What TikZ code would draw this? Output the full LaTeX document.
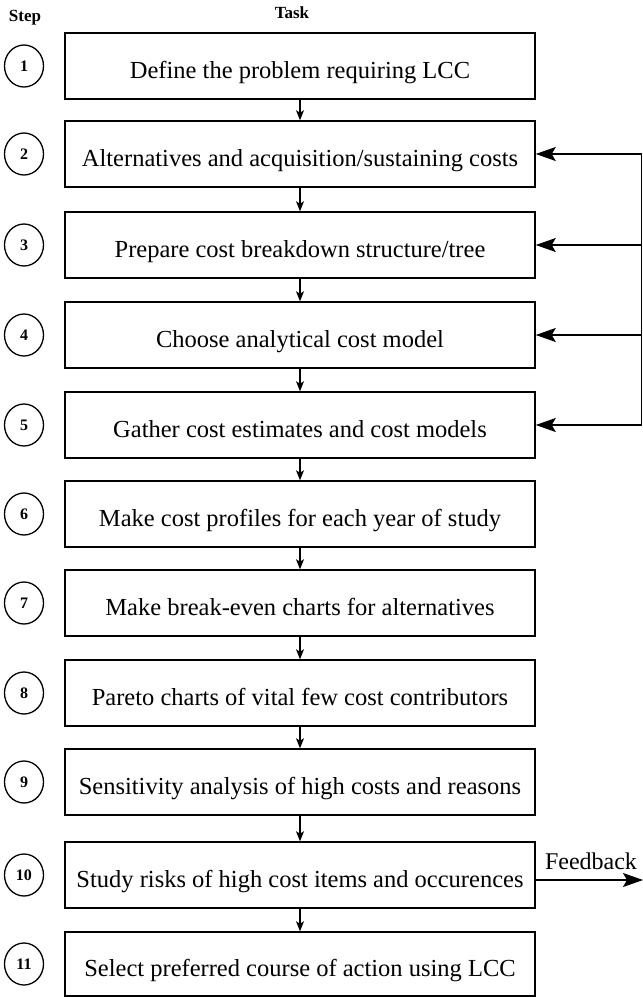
\documentclass[tikz,border=0pt]{standalone}
\usepackage{fontspec}
\setmainfont{Liberation Serif}
\usetikzlibrary{arrows.meta,shapes.geometric}

\begin{document}
\begin{tikzpicture}[x=1pt,y=1pt,
  taskbox/.style={draw,line width=1.5pt,rectangle,minimum width=470pt,
    minimum height=66pt,inner sep=0pt,text height=25pt,text depth=0pt,
    font=\fontsize{24.5}{28}\selectfont},
  stepno/.style={draw,line width=1.3pt,ellipse,minimum width=39pt,
    minimum height=42pt,inner sep=0pt,font=\fontsize{16}{18}\selectfont\bfseries},
  head/.style={font=\fontsize{17}{19}\selectfont\bfseries},
  flow/.style={line width=1.2pt,-{Stealth[length=10pt,width=8pt,inset=2.5pt]}},
  back/.style={line width=1.2pt,-{Stealth[length=20pt,width=14pt,inset=4pt]}}]

\useasboundingbox (0,0) rectangle (643,-997);

% column headings
\node[head] (hstep) at (25,-18) {Step};
\node[head] (htask) at (292,-13) {Task};

% task boxes
\node[taskbox] (b1)  at (300,-66)  {Define the problem requiring LCC};
\node[taskbox] (b2)  at (300,-154) {Alternatives and acquisition/sustaining costs};
\node[taskbox] (b3)  at (300,-245) {Prepare cost breakdown structure/tree};
\node[taskbox] (b4)  at (300,-335) {Choose analytical cost model};
\node[taskbox] (b5)  at (300,-425) {Gather cost estimates and cost models};
\node[taskbox] (b6)  at (300,-514) {Make cost profiles for each year of study};
\node[taskbox] (b7)  at (300,-603) {Make break-even charts for alternatives};
\node[taskbox] (b8)  at (300,-693) {Pareto charts of vital few cost contributors};
\node[taskbox] (b9)  at (300,-782) {Sensitivity analysis of high costs and reasons};
\node[taskbox] (b10) at (300,-875) {Study risks of high cost items and occurences};
\node[taskbox,minimum height=64pt] (b11) at (300,-964) {Select preferred course of action using LCC};

% step numbers
\foreach \i in {1,...,11}{
  \node[stepno] (s\i) at (24,0 |- b\i) {\i};
}

% main sequence
\foreach \a/\b in {1/2,2/3,3/4,4/5,5/6,6/7,7/8,8/9,9/10,10/11}{
  \draw[flow] (b\a) -- (b\b);
}

% feedback out of step 10
\coordinate (fbout) at (643,-880);
\draw[back] ([yshift=-5pt]b10.east) -- (fbout);
\node[font=\fontsize{24}{26}\selectfont] (fblabel) at (591,-861) {Feedback};

% feedback return into steps 2 to 5
\coordinate (r2) at (641.5,0 |- b2.east);
\coordinate (r3) at (641.5,0 |- b3.east);
\coordinate (r4) at (641.5,0 |- b4.east);
\coordinate (r5) at (641.5,0 |- b5.east);
\draw[line width=1.2pt] (r2) -- (r5);
\foreach \i in {2,3,4,5}{
  \draw[back] (r\i) -- (b\i.east);
}
\end{tikzpicture}
\end{document}
